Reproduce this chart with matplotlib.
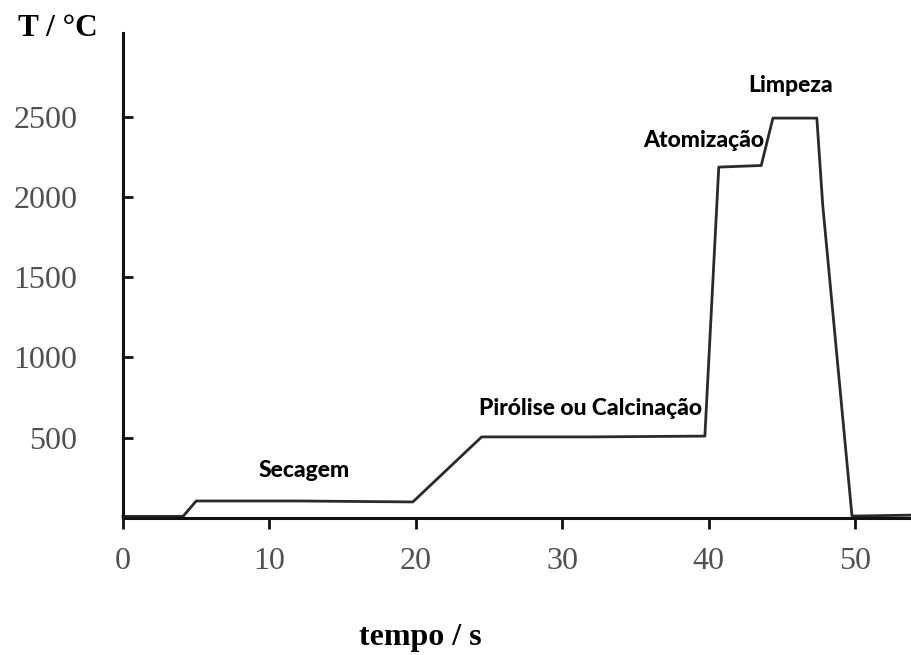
import numpy as np
import matplotlib.pyplot as plt

# temperature program of a graphite furnace
tempo = [0, 4.1, 5.0, 12.0, 19.8, 24.5, 32.0, 39.75, 40.7, 43.6, 44.4, 47.4, 47.8, 49.8, 53.9]
temp = [10, 10, 106, 106, 100, 505, 505, 510, 2185, 2195, 2490, 2490, 1950, 12, 18]

x_ticks = [0, 10, 20, 30, 40, 50]
y_ticks = [500, 1000, 1500, 2000, 2500]

etapas = ['Secagem', 'Pirólise ou Calcinação', 'Atomização', 'Limpeza']
etapa_x = [12.35, 31.95, 39.7, 45.6]
etapa_y = [293, 680, 2350, 2690]

fig = plt.figure(figsize=(9.12, 6.55), dpi=100)
ax = fig.add_axes([123 / 912, 137 / 655, (912 - 123) / 912, (518 - 33) / 655])

ax.plot(tempo, temp, color='#2a2a2a', lw=2.0, solid_joinstyle='round', clip_on=False)

ax.set_xlim(0, 53.9)
ax.set_ylim(0, 3020)
ax.spines['top'].set_visible(False)
ax.spines['right'].set_visible(False)
for s in ['left', 'bottom']:
    ax.spines[s].set_linewidth(2.2)
    ax.spines[s].set_color('#111111')

ax.set_xticks(x_ticks)
ax.set_yticks(y_ticks)
ax.tick_params(axis='x', direction='out', length=8, width=2, color='#111111',
               pad=13, labelsize=23, labelcolor='#505050')
ax.tick_params(axis='y', direction='in', length=7, width=2, color='#111111',
               pad=33, labelsize=23, labelcolor='#505050')
for lab in ax.get_xticklabels() + ax.get_yticklabels():
    lab.set_family('Liberation Serif')

for nome, x, y in zip(etapas, etapa_x, etapa_y):
    ax.text(x, y, nome, ha='center', va='center', fontsize=16.5,
            fontweight='black', family='Lato', color='black')

fig.text(18 / 912, 1 - 28 / 655, 'T / °C', ha='left', va='center', fontsize=22.5,
         fontweight='bold', family='Liberation Serif')
fig.text(420 / 912, 1 - 638 / 655, 'tempo / s', ha='center', va='center', fontsize=23,
         fontweight='bold', family='Liberation Serif')

fig.savefig('out.png', dpi=100)
